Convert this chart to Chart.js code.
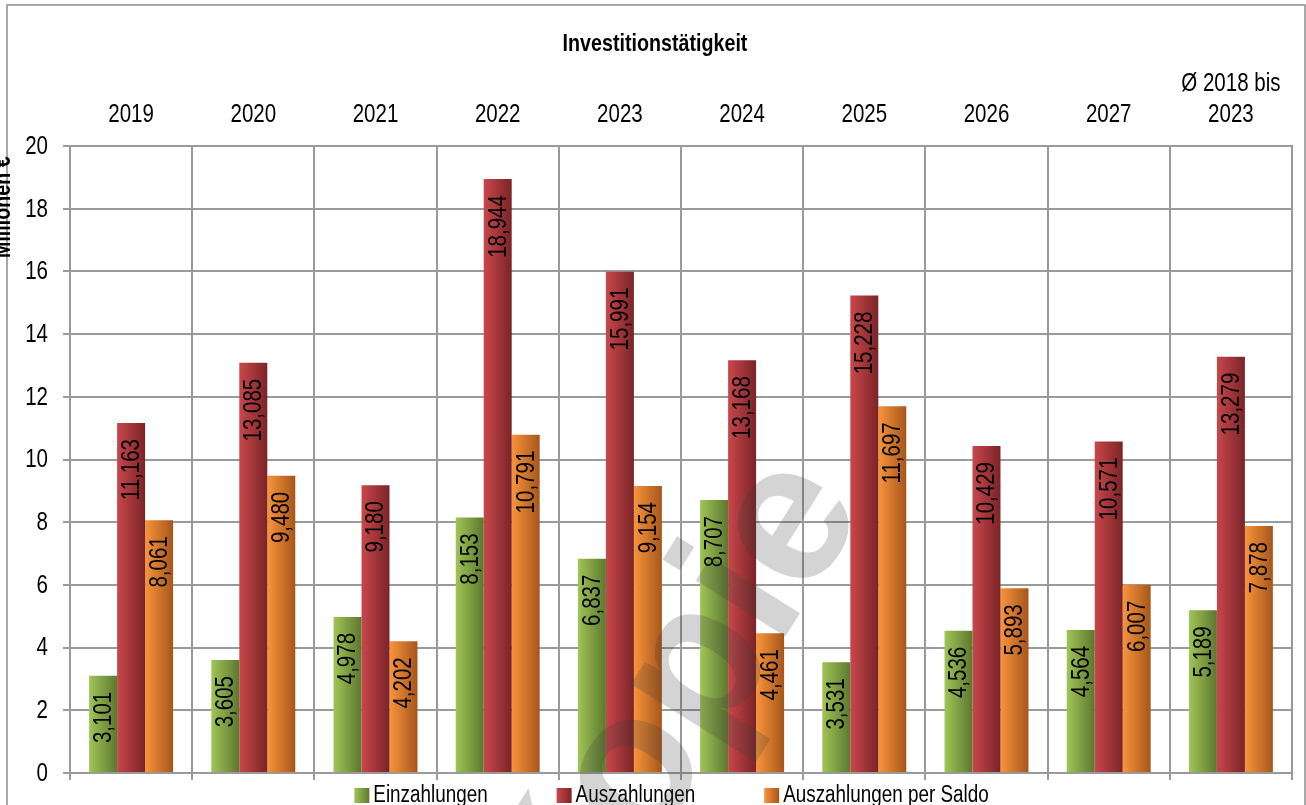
<!DOCTYPE html>
<html>
<head>
<meta charset="utf-8">
<script src="https://cdn.jsdelivr.net/npm/chart.js@4"></script>
<style>
  html, body { margin: 0; padding: 0; background: #fff; }
  #wrap { width: 1306px; height: 805px; }
</style>
</head>
<body>
<div id="wrap"><canvas id="myChart" width="1306" height="805"></canvas></div>
<script>
var years = ['2019', '2020', '2021', '2022', '2023', '2024', '2025', '2026', '2027', ['Ø 2018 bis', '2023']];
var einzahlungen = [3.101, 3.605, 4.978, 8.153, 6.837, 8.707, 3.531, 4.536, 4.564, 5.189];
var auszahlungen = [11.163, 13.085, 9.180, 18.944, 15.991, 13.168, 15.228, 10.429, 10.571, 13.279];
var saldo = [8.061, 9.480, 4.202, 10.791, 9.154, 4.461, 11.697, 5.893, 6.007, 7.878];
var seriesNames = ['Einzahlungen', 'Auszahlungen', 'Auszahlungen per Saldo'];

// no narrow font installed, so Liberation Sans is squeezed horizontally
var FONT = "'Liberation Sans', Arial, sans-serif";
var NARROW = 0.82;
var CAT_PCT = 0.687;
var GRID = '#9a9a9a';

// light -> dark horizontal shading of each bar
var shades = [
    ['#a0c556', '#5d772f'],
    ['#c9474b', '#7a2427'],
    ['#f9943b', '#a6561b']
];

function barFill(k) {
    return function (c) {
        var chart = c.chart;
        var x = chart.scales.x;
        if (!x || c.dataIndex === undefined) return shades[k][0];
        var catW = (x.right - x.left) / years.length;
        var bw = catW * CAT_PCT / 3;
        var left = x.getPixelForValue(c.dataIndex) - 1.5 * bw + k * bw;
        if (!isFinite(left) || !isFinite(bw) || bw <= 0) return shades[k][0];
        var g = chart.ctx.createLinearGradient(left, 0, left + bw, 0);
        g.addColorStop(0, shades[k][0]);
        g.addColorStop(1, shades[k][1]);
        return g;
    };
}

function fmt(v) {
    return v.toFixed(3).replace('.', ',');
}

// draw condensed text at x,y (optionally rotated)
function narrowText(ctx, text, x, y, align, rot) {
    ctx.save();
    ctx.translate(x, y);
    if (rot) ctx.rotate(rot);
    ctx.scale(NARROW, 1);
    ctx.textAlign = align;
    ctx.fillText(text, 0, 0);
    ctx.restore();
}

var decor = {
    id: 'decor',
    afterDatasetsDraw: function (chart) {
        var ctx = chart.ctx;
        ctx.save();
        ctx.fillStyle = '#000';
        ctx.textBaseline = 'middle';
        ctx.font = '25px ' + FONT;

        // value labels inside the bars
        chart.data.datasets.forEach(function (ds, i) {
            chart.getDatasetMeta(i).data.forEach(function (bar, j) {
                narrowText(ctx, fmt(ds.data[j]), bar.x + 1, bar.y + 16, 'right', -Math.PI / 2);
            });
        });

        // y tick labels
        var ys = chart.scales.y;
        ys.ticks.forEach(function (t) {
            narrowText(ctx, String(t.value), 48, ys.getPixelForValue(t.value) + 1, 'right');
        });

        // x tick labels (top axis)
        var xs = chart.scales.x;
        years.forEach(function (lab, i) {
            var lines = Array.isArray(lab) ? lab : [lab];
            var px = xs.getPixelForValue(i);
            lines.forEach(function (ln, k) {
                narrowText(ctx, ln, px, 115 - (lines.length - 1 - k) * 31, 'center');
            });
        });
        ctx.restore();
    },
    afterDraw: function (chart) {
        var ctx = chart.ctx;
        ctx.save();

        // outer frame
        ctx.strokeStyle = '#8c8c8c';
        ctx.lineWidth = 1.5;
        ctx.strokeRect(7, 5, 1298, 830);

        // title
        ctx.fillStyle = '#000';
        ctx.font = 'bold 24px ' + FONT;
        ctx.textBaseline = 'middle';
        narrowText(ctx, 'Investitionstätigkeit', 655, 44, 'center');

        // y axis title, partly cut off at the left edge
        ctx.font = 'bold 24px ' + FONT;
        ctx.textBaseline = 'alphabetic';
        narrowText(ctx, 'Millionen €', 10, 258, 'left', -Math.PI / 2);

        // legend
        ctx.font = '23px ' + FONT;
        ctx.textBaseline = 'middle';
        var widths = seriesNames.map(function (n) { return ctx.measureText(n).width * NARROW; });
        var total = 0;
        widths.forEach(function (w, i) { total += 15 + 5 + w + (i < widths.length - 1 ? 68 : 0); });
        var lx = 672 - total / 2;
        var ly = 795;
        seriesNames.forEach(function (n, i) {
            var g = ctx.createLinearGradient(lx, 0, lx + 15, 0);
            g.addColorStop(0, shades[i][0]);
            g.addColorStop(1, shades[i][1]);
            ctx.fillStyle = g;
            ctx.fillRect(lx, ly - 7, 15, 15);
            ctx.fillStyle = '#000';
            narrowText(ctx, n, lx + 19, ly + 1, 'left');
            lx += 15 + 5 + widths[i] + 68;
        });

        // watermark
        ctx.save();
        ctx.translate(572, 978);
        ctx.rotate(-58 * Math.PI / 180);
        ctx.font = "bold 200px 'Liberation Sans', Arial, sans-serif";
        ctx.textAlign = 'left';
        ctx.textBaseline = 'alphabetic';
        ctx.fillStyle = 'rgba(60, 60, 60, 0.22)';
        ctx.fillText('Kopie', 0, 0);
        ctx.restore();

        ctx.restore();
    }
};

var element = document.getElementById('myChart').getContext('2d');

var chartData = {
    labels: years,
    datasets: [
        { label: seriesNames[0], data: einzahlungen, backgroundColor: barFill(0) },
        { label: seriesNames[1], data: auszahlungen, backgroundColor: barFill(1) },
        { label: seriesNames[2], data: saldo, backgroundColor: barFill(2) }
    ]
};

var chartOptions = {
    responsive: false,
    animation: false,
    layout: { padding: { left: 0, right: 14, top: 0, bottom: 25 } },
    datasets: { bar: { categoryPercentage: CAT_PCT, barPercentage: 1, borderWidth: 0 } },
    plugins: { legend: { display: false }, tooltip: { enabled: false } },
    scales: {
        x: {
            position: 'top',
            offset: true,
            grid: { offset: true, color: GRID, lineWidth: 2, drawTicks: false },
            border: { color: GRID, width: 2 },
            ticks: { display: false },
            afterFit: function (s) { s.height = 146; }
        },
        x2: {
            type: 'category',
            position: 'bottom',
            offset: true,
            grid: { offset: true, drawOnChartArea: false, color: GRID, lineWidth: 2, tickLength: 7 },
            border: { display: false },
            ticks: { display: false },
            afterFit: function (s) { s.height = 7; }
        },
        y: {
            min: 0,
            max: 20,
            ticks: { stepSize: 2, display: false },
            grid: { color: GRID, lineWidth: 2, tickLength: 7 },
            border: { color: GRID, width: 2 },
            afterFit: function (s) { s.width = 70; }
        }
    }
};

var chart = new Chart(element, { type: 'bar', data: chartData, options: chartOptions, plugins: [decor] });
</script>
</body>
</html>
